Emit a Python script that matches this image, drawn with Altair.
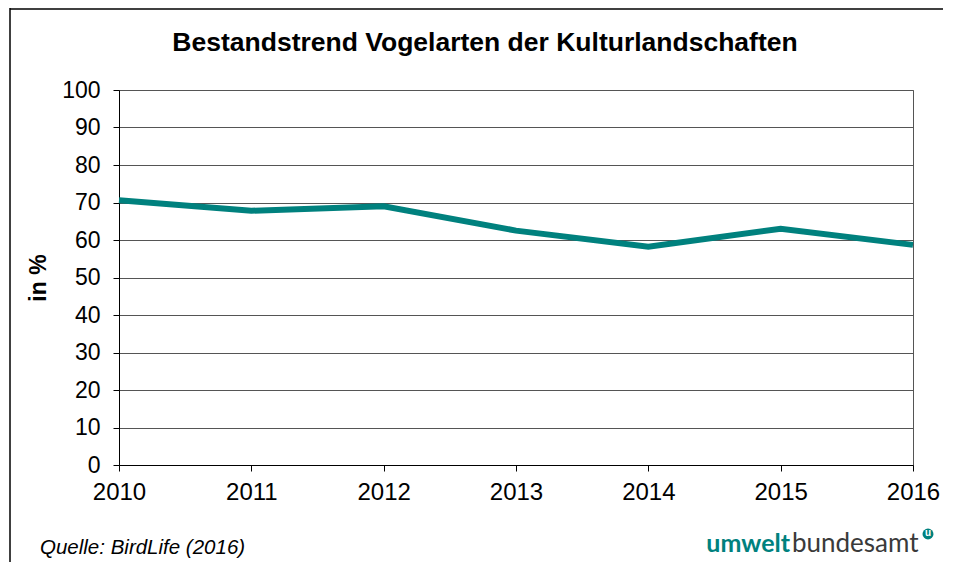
import altair as alt
import pandas as pd

# ---- data ----
years = [2010, 2011, 2012, 2013, 2014, 2015, 2016]
values = [70.6, 67.8, 69.0, 62.5, 58.2, 63.0, 58.7]
y_ticks = [0, 10, 20, 30, 40, 50, 60, 70, 80, 90, 100]
title_text = "Bestandstrend Vogelarten der Kulturlandschaften"
y_title = "in %"
source_text = "Quelle: BirdLife (2016)"
logo_bold = "umwelt"
logo_regular = "bundesamt"

df = pd.DataFrame({"Jahr": years, "Wert": values})

FONT = "Liberation Sans"
TEAL = "#00817E"
W, H = 794, 375
PL, PT = 111, 82

line = alt.Chart(df).mark_line(color=TEAL, strokeWidth=6).encode(
    x=alt.X(
        "Jahr:Q",
        scale=alt.Scale(domain=[2010, 2016], nice=False, zero=False),
        axis=alt.Axis(
            values=years, format="d", title=None, grid=False,
            labelFont=FONT, labelFontSize=24, labelColor="black",
            labelPadding=9, tickSize=6, tickColor="black",
            domainColor="black", labelFlush=False,
        ),
    ),
    y=alt.Y(
        "Wert:Q",
        scale=alt.Scale(domain=[0, 100], nice=False),
        axis=alt.Axis(
            values=y_ticks, title=y_title, grid=True, gridColor="#555555",
            labelFont=FONT, labelFontSize=23, labelColor="black",
            labelPadding=13, tickSize=6, tickColor="black",
            domainColor="black",
            titleFont=FONT, titleFontSize=23, titleFontWeight="bold",
            titleColor="black", titleX=-81, titleY=H / 2,
            titleAngle=270, titleBaseline="middle", titleAlign="center",
        ),
    ),
)

one = pd.DataFrame({"title": [title_text], "src": [source_text],
                    "lb": [logo_bold], "lr": [logo_regular], "u": ["u"]})

title = alt.Chart(one).mark_text(
    font=FONT, fontSize=26.5, fontWeight="bold", color="black",
    align="center", baseline="alphabetic",
).encode(text="title:N", x=alt.value(366), y=alt.value(-39))

source = alt.Chart(one).mark_text(
    font=FONT, fontSize=20.5, fontStyle="italic", color="black",
    align="left", baseline="alphabetic",
).encode(text="src:N", x=alt.value(-79), y=alt.value(464))

logo1 = alt.Chart(one).mark_text(
    font="Lato", fontSize=25, fontWeight="bold", color=TEAL,
    align="right", baseline="alphabetic",
).encode(text="lb:N", x=alt.value(671), y=alt.value(462))

logo2 = alt.Chart(one).mark_text(
    font="Lato", fontSize=26, color="#3a3a3a",
    align="left", baseline="alphabetic",
).encode(text="lr:N", x=alt.value(673), y=alt.value(462))

badge = alt.Chart(one).mark_point(
    filled=True, shape="circle", size=120, color=TEAL, opacity=1,
).encode(x=alt.value(809), y=alt.value(444))

badge_u = alt.Chart(one).mark_text(
    font=FONT, fontSize=10, fontWeight="bold", color="white",
    align="center", baseline="middle",
).encode(text="u:N", x=alt.value(809), y=alt.value(443))

frame_left = alt.Chart(one).mark_rule(color="black", strokeWidth=1.5).encode(
    x=alt.value(-109), y=alt.value(-82), y2=alt.value(479)
)
frame_right = alt.Chart(one).mark_rule(color="black", strokeWidth=1.5).encode(
    x=alt.value(826), y=alt.value(-82), y2=alt.value(479)
)
frame_top = alt.Chart(one).mark_rule(color="black", strokeWidth=1.5).encode(
    x=alt.value(-109), x2=alt.value(826), y=alt.value(-81)
)

chart = alt.layer(
    frame_left, frame_right, frame_top, line, title, source, logo1, logo2,
    badge, badge_u
).properties(
    width=W, height=H,
    autosize=alt.AutoSizeParams(type="none"),
    padding={"left": PL, "top": PT, "right": 30, "bottom": 97},
    background="white",
).configure_view(stroke="#555555", strokeWidth=1)

chart.save("out.html", embed_options={"renderer": "svg", "actions": False})
